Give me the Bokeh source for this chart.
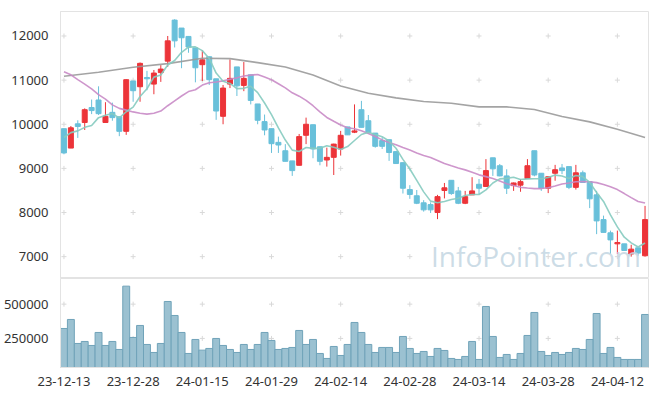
import numpy as np
import pandas as pd
from bokeh.plotting import figure
from bokeh.layouts import column
from bokeh.models import Range1d, FixedTicker, NumeralTickFormatter, ColumnDataSource, Label
from bokeh.embed import file_html
from bokeh.resources import INLINE

# ---------------- data ----------------
date_labels = ["23-12-13", "23-12-28", "24-01-15", "24-01-29", "24-02-14",
               "24-02-28", "24-03-14", "24-03-28", "24-04-12"]
date_ticks = [0, 10, 20, 30, 40, 50, 60, 70, 80]

opens = [9900, 9460, 10010, 10040, 10380, 10550, 10040, 10270, 10170, 9840,
         10980, 10850, 11060, 10910, 11170, 11430, 12360, 12180, 11990, 11730,
         11350, 11530, 11030, 10180, 10910, 11300, 10880, 11120, 10460, 10060,
         9900, 9590, 9400, 9170, 9070, 9750, 9990, 9490, 9190, 9250,
         9440, 9940, 9820, 10330, 10080, 9800, 9630, 9650, 9380, 9130,
         8520, 8380, 8220, 8180, 8000, 8500, 8730, 8490, 8210, 8400,
         8640, 8590, 9240, 9060, 8830, 8610, 8620, 8770, 9400, 8890,
         8550, 8890, 9010, 9040, 8570, 8900, 8700, 8400, 7840, 7540,
         7290, 7290, 7060, 7200, 7020]
highs = [9900, 9960, 10090, 10360, 10560, 10860, 10500, 10490, 10170, 11020,
         10980, 11400, 11210, 11230, 11340, 12000, 12380, 12180, 12000, 11730,
         11680, 11530, 11030, 10890, 11470, 11300, 11410, 11120, 10460, 10220,
         9900, 9720, 9550, 9170, 9780, 10150, 9990, 9490, 9470, 9560,
         9850, 9940, 10450, 10530, 10210, 9800, 9700, 9650, 9380, 9130,
         8620, 8510, 8280, 8230, 8400, 8670, 8730, 8580, 8490, 8800,
         8760, 9210, 9240, 9100, 8980, 8680, 8760, 9210, 9400, 8890,
         8810, 9080, 9100, 9040, 9080, 8950, 8700, 8490, 7930, 7590,
         7590, 7290, 7270, 7200, 8150]
lows = [9320, 9460, 9690, 9870, 10230, 10210, 10040, 10080, 9730, 9760,
        10510, 10510, 10770, 10680, 10960, 11300, 11740, 11270, 11620, 10950,
        10980, 10890, 10100, 10000, 10820, 10640, 10750, 10450, 10000, 9750,
        9350, 9350, 9160, 8830, 9070, 9550, 9230, 9070, 9040, 8850,
        9290, 9760, 9800, 9930, 9790, 9470, 9440, 9170, 9100, 8430,
        8310, 8190, 8020, 7990, 7850, 8320, 8400, 8190, 8190, 8400,
        8420, 8590, 8830, 8820, 8420, 8490, 8470, 8760, 8820, 8490,
        8440, 8720, 8870, 8530, 8520, 8680, 8100, 7510, 7550, 7060,
        7060, 7140, 7000, 7020, 7000]
closes = [9350, 9920, 9950, 10330, 10310, 10240, 10180, 10150, 9840, 11010,
          10760, 11380, 11030, 11160, 11250, 11890, 11890, 11960, 11750, 11280,
          11460, 11010, 10300, 10820, 11040, 10870, 11040, 10540, 10090, 9870,
          9560, 9530, 9160, 8950, 9720, 10000, 9440, 9160, 9250, 9550,
          9750, 9760, 9850, 9930, 9810, 9500, 9500, 9360, 9110, 8550,
          8410, 8210, 8060, 8060, 8360, 8560, 8430, 8210, 8360, 8490,
          8550, 8950, 8990, 8830, 8550, 8670, 8700, 9060, 8850, 8550,
          8810, 8970, 8950, 8570, 8900, 8680, 8310, 7810, 7550, 7380,
          7320, 7140, 7170, 7080, 7840]
volumes = [322600, 388300, 213300, 227900, 198700, 293500, 198700, 227900, 169600, 631200,
           257000, 344500, 206000, 147700, 213300, 519400, 417400, 293500, 140400, 242500,
           164700, 176900, 249800, 198700, 169600, 147700, 206000, 169600, 206000, 293500,
           235200, 169600, 176900, 184200, 308100, 206000, 242500, 140400, 104000, 191400,
           125800, 206000, 366400, 293500, 206000, 147700, 184200, 184200, 147700, 264300,
           176900, 140400, 155000, 118600, 176900, 162300, 104000, 96700, 118600, 227900,
           96700, 483000, 264300, 111300, 133100, 96700, 140400, 271600, 439300, 155000,
           125800, 147700, 133100, 147700, 176900, 169600, 242500, 432000, 140400, 184200,
           111300, 96700, 96700, 96700, 424700]

# moving averages: leading values (depend on earlier sessions)
ma5_head = [9700, 9810, 9850, 9930]
ma20_head = [11190, 11120, 11010, 10910, 10800, 10670, 10570, 10440, 10360, 10320,
             10280, 10250, 10230, 10250, 10300, 10420, 10530, 10640, 10740]
ma60_idx = [0, 5, 10, 15, 20, 24, 28, 32, 36, 40, 44, 48, 52, 56, 60, 64, 68, 72, 76, 80, 84]
ma60_vals = [11088, 11178, 11291, 11374, 11495, 11487, 11397, 11299, 11118, 10869,
             10703, 10597, 10514, 10477, 10394, 10394, 10333, 10175, 10054, 9889, 9700]

price_ticks = [7000, 8000, 9000, 10000, 11000, 12000]
vol_ticks = [250000, 500000]

# ---------------- derived ----------------
n = len(closes)
idx = list(range(n))
cl = pd.Series(closes, dtype=float)
ma5 = cl.rolling(5).mean().tolist()
ma5[:len(ma5_head)] = ma5_head
ma20 = cl.rolling(20).mean().tolist()
ma20[:len(ma20_head)] = ma20_head

UP = "#ec3439"
DOWN = "#69c0da"
colors = [UP if c >= o else DOWN for o, c in zip(opens, closes)]
src = ColumnDataSource(dict(
    x=idx, o=opens, h=highs, l=lows, c=closes,
    top=[max(o, c) for o, c in zip(opens, closes)],
    bot=[min(o, c) for o, c in zip(opens, closes)],
    col=colors, vol=volumes))

FONT = "Noto Sans"
GRIDC = "#e3e3e3"

xr = Range1d(-0.5, 84.5)

# ---------------- price panel ----------------
p = figure(width=653, height=278, x_range=xr, y_range=Range1d(6505, 12555),
           output_backend="svg", toolbar_location=None,
           min_border_left=53, min_border_right=5, min_border_top=11, min_border_bottom=0)
p.xaxis.visible = False
p.xgrid.visible = False
p.ygrid.visible = False
p.outline_line_color = GRIDC
p.yaxis.ticker = FixedTicker(ticks=price_ticks)
p.yaxis.axis_line_color = GRIDC
p.yaxis.major_tick_line_color = None
p.yaxis.minor_tick_line_color = None
p.yaxis.major_label_text_font = FONT
p.yaxis.major_label_text_font_size = "13px"
p.yaxis.major_label_text_color = "#333333"
p.yaxis.major_label_standoff = 6

gx = [x for x in date_ticks for _ in price_ticks]
gy = [y for _ in date_ticks for y in price_ticks]
p.scatter(gx, gy, marker="cross", size=5, line_color="#d9d9d9", line_width=1)

p.add_layout(Label(x=83.4, y=6590, text="InfoPointer.com", text_align="right",
                   text_font="Open Sans", text_font_size="28px",
                   text_color="#c3d6e2", text_alpha=0.85))

p.segment(x0="x", y0="h", x1="x", y1="l", line_color="col", line_width=1, source=src)
p.vbar(x="x", width=0.72, top="top", bottom="bot", fill_color="col", line_color="col", source=src)

p.line(ma60_idx, ma60_vals, line_color="#9a9a9a", line_width=1.6, line_alpha=0.9)
p.line(idx, ma20, line_color="#c98bc6", line_width=1.6, line_alpha=0.9)
p.line(idx, ma5, line_color="#86cbc0", line_width=1.6, line_alpha=0.9)

# ---------------- volume panel ----------------
v = figure(width=653, height=114, x_range=xr, y_range=Range1d(38000, 687000),
           output_backend="svg", toolbar_location=None,
           min_border_left=53, min_border_right=5, min_border_top=0, min_border_bottom=25)
v.xgrid.visible = False
v.ygrid.visible = False
v.outline_line_color = GRIDC
v.yaxis.ticker = FixedTicker(ticks=vol_ticks)
v.yaxis.formatter = NumeralTickFormatter(format="0")
v.xaxis.ticker = FixedTicker(ticks=date_ticks)
v.xaxis.major_label_overrides = {t: lab for t, lab in zip(date_ticks, date_labels)}
for ax in (v.xaxis, v.yaxis):
    ax.axis_line_color = GRIDC
    ax.major_tick_line_color = None
    ax.minor_tick_line_color = None
    ax.major_label_text_font = FONT
    ax.major_label_text_font_size = "13px"
    ax.major_label_text_color = "#333333"
v.yaxis.major_label_standoff = 6
v.xaxis.major_label_standoff = 3

vgx = [x for x in date_ticks for _ in vol_ticks]
vgy = [y for _ in date_ticks for y in vol_ticks]
v.scatter(vgx, vgy, marker="cross", size=5, line_color="#d9d9d9", line_width=1)

v.vbar(x="x", width=1.0, top="vol", bottom=0, fill_color="#9bc1d1",
       line_color="#70a3b9", line_width=1, source=src)

layout = column(p, v)
open("out.html", "w").write(file_html(layout, INLINE))
